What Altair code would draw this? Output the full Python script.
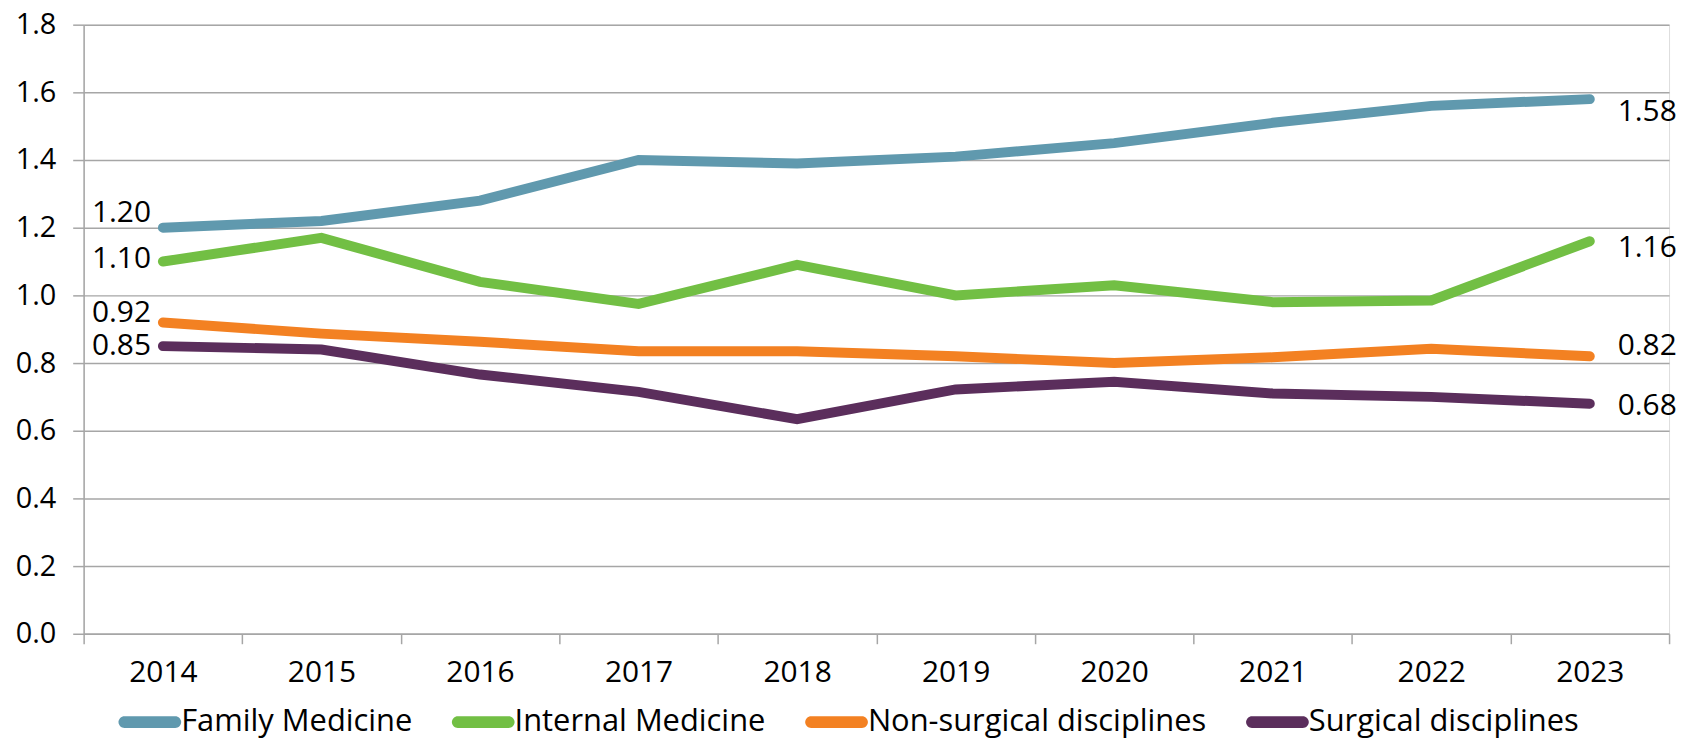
import altair as alt
import pandas as pd

years = ["2014", "2015", "2016", "2017", "2018", "2019", "2020", "2021", "2022", "2023"]
series = ["Family Medicine", "Internal Medicine", "Non-surgical disciplines", "Surgical disciplines"]
family = [1.20, 1.22, 1.28, 1.40, 1.39, 1.41, 1.45, 1.51, 1.56, 1.58]
internal = [1.10, 1.17, 1.04, 0.975, 1.09, 1.00, 1.03, 0.98, 0.985, 1.16]
nonsurg = [0.92, 0.887, 0.863, 0.835, 0.835, 0.82, 0.80, 0.817, 0.842, 0.82]
surg = [0.85, 0.84, 0.766, 0.715, 0.634, 0.722, 0.745, 0.71, 0.70, 0.68]
colors = ["#6099AE", "#72BF44", "#F38122", "#5B2E5C"]
y_ticks = [0.0, 0.2, 0.4, 0.6, 0.8, 1.0, 1.2, 1.4, 1.6, 1.8]

rows = []
for name, vals in zip(series, [family, internal, nonsurg, surg]):
    for yr, v in zip(years, vals):
        rows.append({"year": yr, "series": name, "value": v})
df = pd.DataFrame(rows)

FONT = "Open Sans"
GRID = "#a6a6a6"
capsule = "M-0.81,-0.19 L0.81,-0.19 A0.19,0.19 0 0 1 0.81,0.19 L-0.81,0.19 A0.19,0.19 0 0 1 -0.81,-0.19 Z"

x_enc = alt.X(
    "year:O",
    sort=years,
    scale=alt.Scale(type="band", paddingInner=0, paddingOuter=0),
    axis=alt.Axis(
        title=None, labelAngle=0, tickBand="extent", grid=False,
        domainColor=GRID, domainWidth=1.5, tickColor=GRID, tickWidth=1.5, tickSize=10,
        labelFontSize=30, labelPadding=14, labelColor="#000000", labelFont=FONT,
    ),
)
y_enc = alt.Y(
    "value:Q",
    scale=alt.Scale(domain=[0, 1.8], nice=False, zero=True),
    axis=alt.Axis(
        title=None, values=y_ticks, format=".1f", grid=True,
        gridColor=GRID, gridWidth=1.5, domainColor=GRID, domainWidth=1.5,
        tickColor=GRID, tickWidth=1.5, tickSize=11,
        labelFontSize=29, labelPadding=17, labelColor="#000000", labelFont=FONT,
    ),
)
color_scale = alt.Scale(domain=series, range=colors)

base = alt.Chart(df)

points = base.mark_point(filled=True, opacity=1, size=20, shape=capsule).encode(
    x=x_enc, y=y_enc,
    color=alt.Color(
        "series:N", scale=color_scale, sort=series,
        legend=alt.Legend(
            title=None, orient="none", direction="horizontal",
            legendX=35, legendY=669, padding=0,
            symbolType=capsule, symbolSize=3969, symbolStrokeWidth=0,
            labelFontSize=31, labelFont=FONT, labelColor="#000000",
            labelOffset=0, columnPadding=39, labelLimit=600,
        ),
    ),
)

lines = base.mark_line(strokeWidth=10, strokeCap="round").encode(
    x=x_enc, y=y_enc,
    color=alt.Color("series:N", scale=color_scale, sort=series, legend=None),
)

left_dy = {"Family Medicine": -15, "Internal Medicine": -3,
           "Non-surgical disciplines": -9, "Surgical disciplines": 0}
right_dy = {"Family Medicine": 13, "Internal Medicine": 7,
            "Non-surgical disciplines": -10, "Surgical disciplines": 2}

labels = []
for s in series:
    labels.append(
        base.transform_filter(
            (alt.datum.series == s) & (alt.datum.year == years[0])
        ).mark_text(align="right", baseline="middle", dx=-12, dy=left_dy[s],
                    fontSize=30, font=FONT, color="#000000").encode(
            x=x_enc, y=y_enc, text=alt.Text("value:Q", format=".2f"))
    )
    labels.append(
        base.transform_filter(
            (alt.datum.series == s) & (alt.datum.year == years[-1])
        ).mark_text(align="left", baseline="middle", dx=28, dy=right_dy[s],
                    fontSize=30, font=FONT, color="#000000").encode(
            x=x_enc, y=y_enc, text=alt.Text("value:Q", format=".2f"))
    )

chart = alt.layer(points, lines, *labels).properties(
    width=1593, height=612,
    padding={"left": 76, "top": 15, "right": 13, "bottom": 107},
    autosize=alt.AutoSizeParams(type="none"),
).configure_view(stroke=None).configure(font=FONT)

chart.save("out.html", embed_options={"renderer": "svg", "actions": False})
